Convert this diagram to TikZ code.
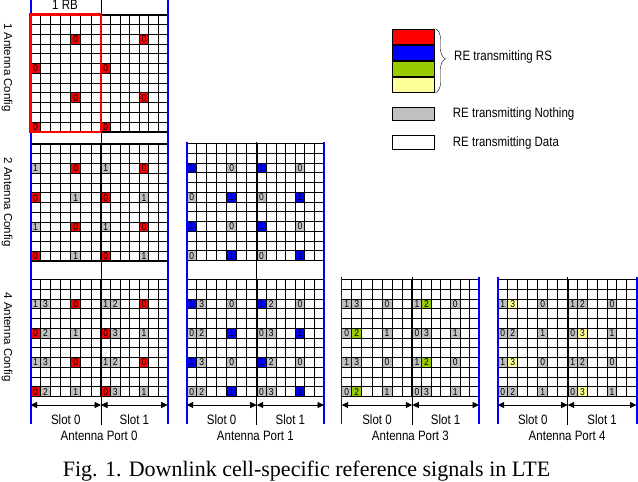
\documentclass[tikz,border=0pt]{standalone}
\usepackage{fontspec}
\setmainfont{Liberation Serif}
\setsansfont{Liberation Sans}
\usetikzlibrary{arrows.meta,positioning,decorations.pathreplacing}

\definecolor{rsred}{RGB}{255,0,0}
\definecolor{rsblue}{RGB}{0,0,255}
\definecolor{rsgreen}{RGB}{153,204,0}
\definecolor{rsyellow}{RGB}{255,255,153}
\definecolor{nothing}{RGB}{192,192,192}

% the scanned labels are set a little taller than wide
\newcommand{\tall}[1]{\scalebox{1}[1.18]{#1}}

% grid geometry: left, slot boundary, right, top, id
\newcommand{\setgrid}[5]{\def\gL{#1}\def\gM{#2}\def\gR{#3}\def\gT{#4}\def\gN{#5}}

% one resource element: slot, symbol, subcarrier row, fill, label
\newcommand{\recell}[5]{%
  \pgfmathsetmacro{\cw}{#1==0 ? (\gM-\gL)/7 : (\gR-\gM)/7}%
  \pgfmathsetmacro{\cx}{#1==0 ? \gL+#2*\cw : \gM+#2*\cw}%
  \pgfmathsetmacro{\cy}{\gT+#3*9.75}%
  \fill[fill=#4] (\cx,\cy) rectangle ++(\cw,9.75);
  \node[digit] (re\gN-#1-#2-#3) at ({\cx+\cw/2},{\cy+4.875}) {\tall{#5}};
}
\newcommand{\pickcell}[2]{%
  \ifnum\tx=#1 \def\cf{#2}\else\def\cf{nothing}\fi
  \recell{\sl}{\cl}{\rw}{\cf}{\tx}}

\newcommand{\oneant}{%
  \foreach \sl in {0,1} \foreach \cl/\rw in {4/2,0/5,4/8,0/11} {\recell{\sl}{\cl}{\rw}{rsred}{0}}}
\newcommand{\twoant}[2]{%
  \foreach \sl in {0,1} \foreach \cl/\rw/\tx in {0/2/1,4/2/0,0/5/0,4/5/1,0/8/1,4/8/0,0/11/0,4/11/1} {\pickcell{#1}{#2}}}
\newcommand{\fourant}[2]{%
  \foreach \rw in {2,8} \foreach \sl/\cl/\tx in {0/0/1,0/1/3,0/4/0,1/0/1,1/1/2,1/4/0} {\pickcell{#1}{#2}}
  \foreach \rw in {5,11} \foreach \sl/\cl/\tx in {0/0/0,0/1/2,0/4/1,1/0/0,1/1/3,1/4/1} {\pickcell{#1}{#2}}}

\newcommand{\cellgrid}{%
  \foreach \rw in {1,...,11} \draw[gridline] (\gL,\gT+\rw*9.75) -- (\gR,\gT+\rw*9.75);
  \foreach \cl in {1,...,6} {
    \draw[gridline] ({\gL+\cl*(\gM-\gL)/7},\gT) -- ++(0,117);
    \draw[gridline] ({\gM+\cl*(\gR-\gM)/7},\gT) -- ++(0,117);
  }
  \draw[edgeline] (\gL,\gT) -- (\gR,\gT) (\gL,\gT+117) -- (\gR,\gT+117) (\gM,\gT) -- (\gM,\gT+117);
}

\begin{document}
\begin{tikzpicture}[x=1pt, y=-1pt,
    font=\sffamily\fontsize{11.5}{13}\selectfont,
    gridline/.style={line width=0.8pt},
    edgeline/.style={line width=1.8pt},
    portline/.style={draw=rsblue},
    slotline/.style={line width=0.8pt},
    rbbox/.style={draw=rsred, line width=2.7pt},
    digit/.style={font=\sffamily\fontsize{8.5}{9}\selectfont, inner sep=0pt},
    txt/.style={inner sep=0pt},
    keybox/.style={rectangle, draw, line width=1pt, minimum width=42pt, minimum height=15pt, inner sep=0pt},
    slotarrow/.style={{Triangle[length=6.5pt,width=6pt]}-{Triangle[length=6.5pt,width=6pt]}, line width=0.8pt}
  ]
  \useasboundingbox (0,0) rectangle (638,482);

  % Antenna Port 0
  \setgrid{30.5}{101}{167.7}{14.7}{A0}
  \oneant
  \cellgrid
  \setgrid{30.5}{101}{167.7}{144}{B0}
  \twoant{0}{rsred}
  \cellgrid
  \setgrid{30.5}{101}{167.7}{279.5}{C0}
  \fourant{0}{rsred}
  \cellgrid
  % Antenna Port 1
  \setgrid{186.7}{256.7}{324}{143.5}{B1}
  \twoant{1}{rsblue}
  \cellgrid
  \setgrid{186.7}{256.7}{324}{279.5}{C1}
  \fourant{1}{rsblue}
  \cellgrid
  % Antenna Port 3 and 4
  \setgrid{341.7}{412.3}{479}{279.5}{C3}
  \fourant{2}{rsgreen}
  \cellgrid
  \setgrid{497.7}{567.7}{636.5}{279.5}{C4}
  \fourant{3}{rsyellow}
  \cellgrid

  % port edges, slot arrows and names
  \foreach \pl/\pc/\pr/\pn/\ptop/\pw in {30.5/101/167.7/0/0/2, 186.7/256.7/324/1/141.7/2,
      341.7/412.3/479/3/276.7/1.2, 497.7/567.7/636.5/4/276.7/2} {
    \draw[portline, line width=\pw pt] (\pl,\ptop) -- (\pl,424) (\pr,\ptop) -- (\pr,424);
    \draw[slotline] (\pc,\ptop) -- (\pc,425);
    \coordinate (sa\pn) at (\pl,405);
    \coordinate (sb\pn) at (\pc,405);
    \coordinate (sc\pn) at (\pr,405);
    \draw[slotarrow] (sa\pn) -- (sb\pn);
    \draw[slotarrow] (sb\pn) -- (sc\pn);
    \node[txt, anchor=base] (slota\pn) at ({(\pl+\pc)/2},424) {\tall{Slot 0}};
    \node[txt, anchor=base] (slotb\pn) at ({(\pc+\pr)/2},424) {\tall{Slot 1}};
    \node[txt, anchor=base] (port\pn) at ({(\pl+\pr)/2},440.5) {\tall{Antenna Port \pn}};
  }

  % resource block
  \draw[rbbox] (30.7,14.7) rectangle (101,132);
  \node[txt, anchor=base] (rb) at (65,9.3) {\tall{1 RB}};

  % configurations
  \node[txt, rotate=-90] (cfg1) at (7,67.5) {1 Antenna Config};
  \node[txt, rotate=-90] (cfg2) at (7,202) {2 Antenna Config};
  \node[txt, rotate=-90] (cfg4) at (7,337) {4 Antenna Config};

  % legend
  \node[keybox, fill=rsred] (keyred) at (413,36.8) {};
  \node[keybox, fill=rsblue, below=0pt of keyred] (keyblue) {};
  \node[keybox, fill=rsgreen, below=0pt of keyblue] (keygreen) {};
  \node[keybox, fill=rsyellow, below=0pt of keygreen] (keyyellow) {};
  \draw[decorate, decoration={brace, amplitude=10pt, aspect=0.47}]
    ([xshift=1pt]keyred.north east) -- ([xshift=1pt]keyyellow.south east);
  \node[txt, anchor=west] (rstext) at (454,57.3) {\tall{RE transmitting RS}};
  \node[keybox, fill=nothing, minimum height=13.4pt] (keygrey) at (413,114) {};
  \node[txt, anchor=west] (nothingtext) at (452.7,114.3) {\tall{RE transmitting Nothing}};
  \node[keybox, minimum height=14pt] (keywhite) at (413,142) {};
  \node[txt, anchor=west] (datatext) at (452.7,142.7) {\tall{RE transmitting Data}};

  \node[anchor=base, inner sep=0pt, font=\rmfamily\fontsize{22}{26}\selectfont] (caption) at (306.5,476)
    {Fig. 1. Downlink cell-specific reference signals in LTE};
\end{tikzpicture}
\end{document}
